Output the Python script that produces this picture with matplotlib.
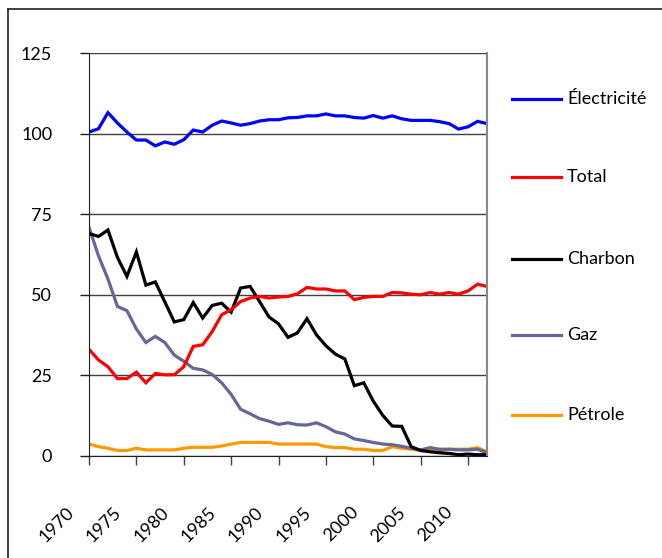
import numpy as np
import matplotlib
matplotlib.use("Agg")
from matplotlib import pyplot as plt
from matplotlib.transforms import ScaledTranslation
from matplotlib.lines import Line2D

plt.rcParams['font.family'] = ['Lato', 'DejaVu Sans']

years = np.arange(1970, 2013)

electricite = [100.5, 101.5, 106.5, 103.3, 100.5, 98.0, 98.0, 96.2, 97.4, 96.7,
               98.1, 101.1, 100.5, 102.6, 103.9, 103.3, 102.6, 103.1, 103.9, 104.3,
               104.3, 104.9, 105.0, 105.5, 105.5, 106.1, 105.5, 105.5, 105.0, 104.8,
               105.6, 104.8, 105.5, 104.6, 104.1, 104.1, 104.1, 103.7, 103.1, 101.4,
               102.1, 103.8, 103.1]
total = [33.1, 29.8, 27.7, 24.0, 24.0, 26.0, 22.7, 25.6, 25.2, 25.2,
         27.7, 34.0, 34.5, 38.6, 43.8, 45.4, 47.9, 49.0, 49.5, 49.0,
         49.3, 49.5, 50.3, 52.3, 51.8, 51.8, 51.2, 51.2, 48.5, 49.2,
         49.5, 49.5, 50.7, 50.6, 50.2, 50.0, 50.7, 50.2, 50.7, 50.2,
         51.2, 53.3, 52.6]
charbon = [69.0, 68.1, 70.1, 61.6, 55.7, 63.3, 53.0, 54.0, 47.8, 41.6,
           42.3, 47.6, 42.8, 46.7, 47.4, 44.6, 52.1, 52.6, 47.9, 43.1,
           41.0, 36.8, 38.2, 42.6, 37.6, 34.2, 31.6, 30.1, 21.8, 22.7,
           17.0, 12.6, 9.3, 9.2, 2.9, 1.7, 1.3, 1.0, 0.8, 0.4,
           0.6, 0.4, 0.4]
gaz = [70.9, 62.1, 54.9, 46.4, 45.1, 39.4, 35.2, 37.1, 35.2, 31.3,
       29.4, 27.2, 26.7, 25.3, 22.7, 19.1, 14.5, 13.1, 11.6, 10.8,
       9.8, 10.3, 9.7, 9.6, 10.3, 9.1, 7.5, 6.8, 5.3, 4.8,
       4.2, 3.7, 3.5, 3.0, 2.4, 1.9, 2.6, 2.1, 2.1, 1.9,
       1.9, 2.1, 1.0]
petrole = [3.7, 2.9, 2.4, 1.7, 1.7, 2.4, 1.9, 1.9, 1.9, 1.9,
           2.4, 2.7, 2.7, 2.7, 3.1, 3.7, 4.2, 4.2, 4.2, 4.2,
           3.7, 3.7, 3.7, 3.7, 3.7, 2.9, 2.6, 2.6, 2.1, 2.1,
           1.7, 1.7, 2.9, 2.4, 2.1, 1.7, 1.7, 1.7, 2.1, 2.1,
           2.1, 2.6, 1.3]

series = [("Électricité", electricite, "#0000ff"),
          ("Total", total, "#ff0000"),
          ("Charbon", charbon, "#000000"),
          ("Gaz", gaz, "#666699"),
          ("Pétrole", petrole, "#ff9900")]

fig = plt.figure(figsize=(6.62, 5.58), dpi=100)
ax = fig.add_axes([89 / 662, 1 - 456 / 558, 398 / 662, 403 / 558])

for name, vals, col in series[::-1]:
    ax.plot(years, vals, color=col, lw=2.3, solid_joinstyle='miter')

ax.set_xlim(1970, 2012)
ax.set_ylim(0, 125)
ax.set_yticks([0, 25, 50, 75, 100, 125])
ax.set_xticks(np.arange(1970, 2011, 5))
ax.yaxis.grid(True, color='#404040', lw=1.0)
ax.set_axisbelow(True)

for s in ['top']:
    ax.spines[s].set_visible(False)
ax.spines['right'].set_color('#888888')
ax.spines['right'].set_linewidth(1.5)
ax.spines['left'].set_color('#202020')
ax.spines['bottom'].set_color('#202020')

ax.tick_params(axis='y', length=6.5, width=1, color='#202020', pad=20, labelsize=13)
ax.tick_params(axis='x', length=6.5, width=1, color='#404040', pad=28, labelsize=13)
off = ScaledTranslation(-12 / 100, 0, fig.dpi_scale_trans)
for lab in ax.get_xticklabels():
    lab.set_rotation(45)
    lab.set_ha('right')
    lab.set_va('top')
    lab.set_transform(lab.get_transform() + off)

# legend entries drawn manually to match the spacing
leg_y = [99, 177, 259, 335, 415]
for (name, vals, col), y in zip(series, leg_y):
    fy = 1 - y / 558
    fig.add_artist(Line2D([512 / 662, 561 / 662], [fy, fy], color=col, lw=2.3))
    fig.text(567 / 662, fy, name, va='center', ha='left', fontsize=13)

# outer frame (top and left only visible)
fig.add_artist(Line2D([8 / 662, 1], [1 - 9 / 558, 1 - 9 / 558], color='#202020', lw=1.2))
fig.add_artist(Line2D([8 / 662, 8 / 662], [0, 1 - 9 / 558], color='#202020', lw=1.2))

fig.savefig("out.png", dpi=100)
